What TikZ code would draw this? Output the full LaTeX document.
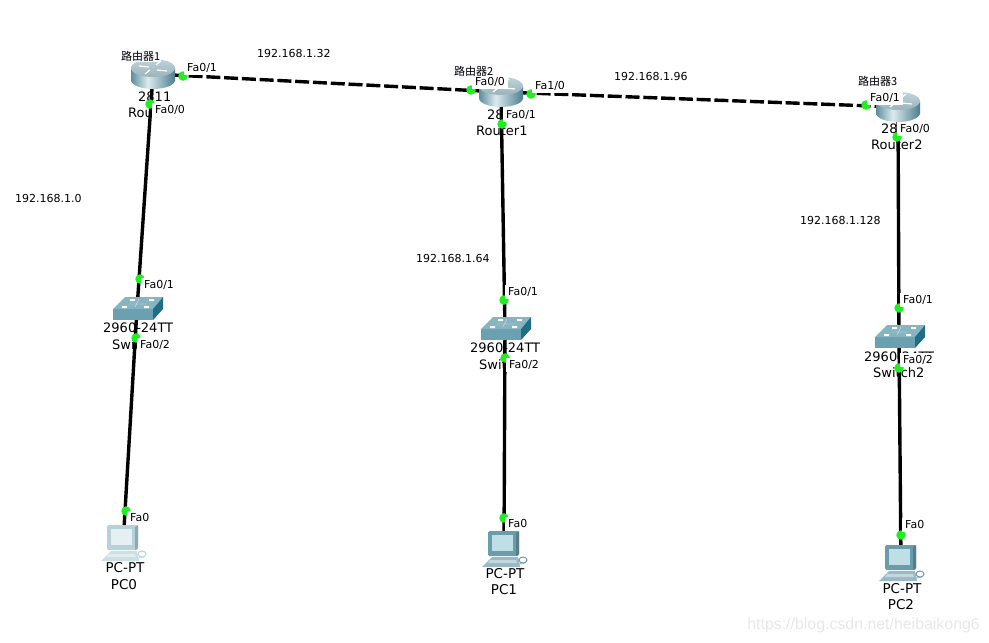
\documentclass[tikz,border=0pt]{standalone}
\usepackage{fontspec}
\setmainfont{DejaVu Sans}
\newfontfamily\cjkfont{Noto Sans CJK SC}
\newfontfamily\markfont{Liberation Sans}
\definecolor{linkgreen}{HTML}{1EF01E}
\definecolor{pcpale}{HTML}{B5D2DA}
\definecolor{pcdark}{HTML}{6B9CAB}
\definecolor{pcscreen}{HTML}{E6F0F3}
\definecolor{pcglass}{HTML}{BFDFE7}
\definecolor{swfront}{HTML}{6AA0B0}
\definecolor{swtop}{HTML}{86B4C0}
\definecolor{swside}{HTML}{1F6E85}
\definecolor{rtleft}{HTML}{5E8E9C}
\definecolor{rtlight}{HTML}{DCEAEE}
\definecolor{rtright}{HTML}{4C7E8E}
\definecolor{rttop}{HTML}{A3C0CB}
\pgfdeclarehorizontalshading{routerbody}{100bp}{color(0bp)=(rtleft); color(25bp)=(rtleft); color(44bp)=(rtlight); color(75bp)=(rtright); color(100bp)=(rtright)}
\tikzset{
  devnode/.style={inner sep=0pt,minimum size=1pt},
  portdot/.style={circle,fill=linkgreen,inner sep=0pt,minimum size=9.5pt},
  etherlink/.style={line width=3.4pt},
  seriallink/.style={line width=3.4pt,dash pattern=on 14pt off 3.8pt},
  portlabel/.style={anchor=west,fill=white,inner xsep=3pt,inner ysep=2pt,xshift=-3pt,text height=8.5pt,text depth=2pt,font=\fontsize{11}{11}\selectfont},
  netlabel/.style={anchor=west,inner sep=0pt,font=\fontsize{11}{11}\selectfont},
  modellabel/.style={anchor=west,inner sep=0pt,font=\fontsize{13}{13}\selectfont},
  pclabel/.style={inner sep=0pt,font=\fontsize{13.5}{13.5}\selectfont},
  namelabel/.style={anchor=west,fill=blue!2,inner sep=0.8pt,font=\cjkfont\fontsize{11}{11}\selectfont},
  routerpic/.pic={
    \shade[shading=routerbody] (-22,-6) rectangle (22,6);
    \shade[shading=routerbody] (0,6) ellipse[x radius=22,y radius=9];
    \shade[top color=rttop!70!white,bottom color=rttop!80!gray] (0,-6) ellipse[x radius=22,y radius=9];
    \draw[white,line width=1.2pt] (-14,-8) -- (-4,-7) (4,-4) -- (14,-3) (-8,0) -- (-3,-4) (3,-9) -- (8,-13);
  },
  switchpic/.pic={
    \fill[swfront] (-24,0) rectangle (16,11);
    \fill[swtop] (-24,0) -- (16,0) -- (26,-12) -- (-12,-12) -- cycle;
    \fill[swside] (16,0) -- (26,-12) -- (26,0) -- (16,11) -- cycle;
    \fill[white] (-15,-3) rectangle (-10,-1) (7,-3) rectangle (12,-1)
      (-7,-10) rectangle (-2,-8) (12,-10) rectangle (17,-8);
    \draw[white!70!swtop] (-8,-5) -- (10,-5) (2,-10) -- (-2,-2);
  },
  pics/pcpic/.style 2 args={code={
    \fill[#1!70!white] (-22,16) -- (-12,6) -- (14,6) -- (16,16) -- cycle;
    \fill[white!60!#1] (-14,9) -- (12,9) -- (13,12) -- (-16,12) -- cycle;
    \fill[#1,rounded corners=1.5pt] (-16,-20) rectangle (15,5);
    \fill[#2] (-12,-16) rectangle (9,0);
    \fill[#1!80!black] (12,-18) -- (15,-20) -- (15,3) -- (12,5) -- cycle;
    \draw[#1,line width=1pt] (19,9) ellipse[x radius=4,y radius=3];
    \draw[#1!70!white,line width=1pt] (15,13) -- (21,12);
  }}
}
\begin{document}
\begin{tikzpicture}[x=1pt,y=-1pt]
\useasboundingbox (0,0) rectangle (989,643);
\fill[white] (0,0) rectangle (989,643);
\node[devnode] (router0) at (153,74) {};
\node[devnode] (router1) at (501,92) {};
\node[devnode] (router2) at (898,107) {};
\node[devnode] (switch0) at (137,309) {};
\node[devnode] (switch1) at (505,329) {};
\node[devnode] (switch2) at (899,337) {};
\node[devnode] (pc0) at (123,545) {};
\node[devnode] (pc1) at (504,551) {};
\node[devnode] (pc2) at (901,565) {};

\node[modellabel] (router0model) at (138,97) {2811};
\node[modellabel] (router0name) at (128,113) {Router0};
\node[modellabel] (router1model) at (487,115) {2811};
\node[modellabel] (router1name) at (476,131) {Router1};
\node[modellabel] (router2model) at (881,129) {2811};
\node[modellabel] (router2name) at (871,145) {Router2};
\node[modellabel] (switch0model) at (103,328) {2960-24TT};
\node[modellabel] (switch0name) at (112,345) {Switch0};
\node[modellabel] (switch1model) at (470,348) {2960-24TT};
\node[modellabel] (switch1name) at (479,365) {Switch1};
\node[modellabel] (switch2model) at (864,357) {2960-24TT};
\node[modellabel] (switch2name) at (873,373) {Switch2};
\node[pclabel] (pc0model) at (125,568) {PC-PT};
\node[pclabel] (pc0name) at (124,585) {PC0};
\node[pclabel] (pc1model) at (505,574) {PC-PT};
\node[pclabel] (pc1name) at (504,590) {PC1};
\node[pclabel] (pc2model) at (902,589) {PC-PT};
\node[pclabel] (pc2name) at (901,605) {PC2};

\draw[seriallink] (router0.center) -- (router1.center);
\draw[seriallink] (router1.center) -- (router2.center);
\draw[etherlink] (router0.center) -- (switch0.center);
\draw[etherlink] (switch0.center) -- (pc0.center);
\draw[etherlink] (router1.center) -- (switch1.center);
\draw[etherlink] (switch1.center) -- (pc1.center);
\draw[etherlink] (router2.center) -- (switch2.center);
\draw[etherlink] (switch2.center) -- (pc2.center);

\pic at (router0) {routerpic};
\pic at (router1) {routerpic};
\pic at (router2) {routerpic};
\pic at (switch0) {switchpic};
\pic at (switch1) {switchpic};
\pic at (switch2) {switchpic};
\pic at (pc0) {pcpic={pcpale}{pcscreen}};
\pic at (pc1) {pcpic={pcdark}{pcglass}};
\pic at (pc2) {pcpic={pcdark}{pcglass}};

\node[portdot] (r0fa01) at (183,76) {};
\node[portdot] (r0fa00) at (150,104) {};
\node[portdot] (r1fa00) at (471,90) {};
\node[portdot] (r1fa10) at (531,94) {};
\node[portdot] (r1fa01) at (502,124) {};
\node[portdot] (r2fa01) at (866,105) {};
\node[portdot] (r2fa00) at (897,137) {};
\node[portdot] (s0fa01) at (140,279) {};
\node[portdot] (s0fa02) at (136,338) {};
\node[portdot] (s1fa01) at (504,300) {};
\node[portdot] (s1fa02) at (505,358) {};
\node[portdot] (s2fa01) at (899,308) {};
\node[portdot] (s2fa02) at (899,368) {};
\node[portdot] (pc0fa0) at (126,511) {};
\node[portdot] (pc1fa0) at (504,518) {};
\node[portdot] (pc2fa0) at (901,535) {};

\node[portlabel] at (187,68) {Fa0/1};
\node[portlabel] at (155,110) {Fa0/0};
\node[portlabel] at (475,82) {Fa0/0};
\node[portlabel] at (535,86) {Fa1/0};
\node[portlabel] at (506,115) {Fa0/1};
\node[portlabel] at (870,98) {Fa0/1};
\node[portlabel] at (900,129) {Fa0/0};
\node[portlabel] at (144,285) {Fa0/1};
\node[portlabel] at (140,345) {Fa0/2};
\node[portlabel] at (508,292) {Fa0/1};
\node[portlabel] at (509,365) {Fa0/2};
\node[portlabel] at (903,300) {Fa0/1};
\node[portlabel] at (903,360) {Fa0/2};
\node[portlabel] at (130,518) {Fa0};
\node[portlabel] at (508,524) {Fa0};
\node[portlabel] at (905,525) {Fa0};

\node[namelabel] (router0tag) at (120,56) {路由器1};
\node[namelabel] (router1tag) at (453,71) {路由器2};
\node[namelabel] (router2tag) at (857,81) {路由器3};

\node[netlabel] (net32) at (257,53) {192.168.1.32};
\node[netlabel] (net96) at (614,76) {192.168.1.96};
\node[netlabel] (net0) at (15,198) {192.168.1.0};
\node[netlabel] (net64) at (416,258) {192.168.1.64};
\node[netlabel] (net128) at (800,220) {192.168.1.128};

\node[anchor=east,inner sep=0pt,text=black!9,font=\markfont\fontsize{15.9}{15.9}\selectfont] (watermark) at (980,625) {https://blog.csdn.net/heibaikong6};
\end{tikzpicture}
\end{document}
